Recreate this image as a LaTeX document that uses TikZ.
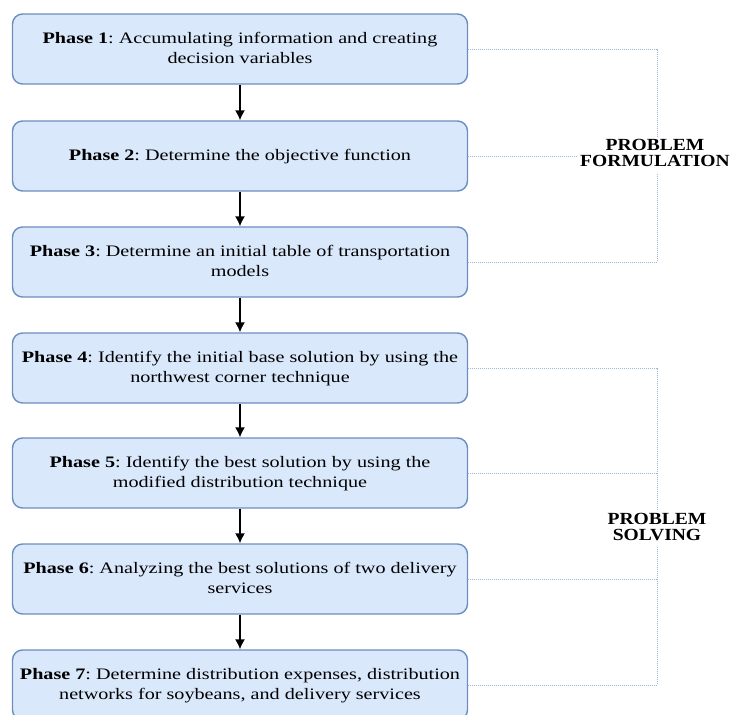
\documentclass[tikz,border=0pt]{standalone}
\usepackage{fontspec}
\setmainfont{Liberation Serif}
\usetikzlibrary{arrows.meta}
\newcommand{\stretchtext}[1]{\scalebox{1.26}[1]{\begin{tabular}{@{}c@{}}#1\end{tabular}}}
\begin{document}
\frenchspacing
\begin{tikzpicture}[x=1pt,y=-1pt,
  phase/.style={draw={rgb,255:red,108;green,142;blue,191}, line width=1.4pt, fill={rgb,255:red,218;green,232;blue,252}, rounded corners=10pt,
    minimum width=455pt, minimum height=70pt, align=center, font=\fontsize{16}{20}\selectfont, inner sep=0pt},
  arr/.style={-{Latex[length=10pt,width=10pt]}, line width=1.4pt, black},
  brk/.style={draw={rgb,255:red,160;green,182;blue,215}, densely dotted, line width=1pt},
  lbl/.style={fill=white, align=center, font=\bfseries\fontsize{17}{15.5}\selectfont, inner sep=2pt}
]
\useasboundingbox (0,0) rectangle (732,715);
\node[phase] (p1) at (240,49) {\stretchtext{\textbf{Phase 1}: Accumulating information and creating\\decision variables}};
\node[phase] (p2) at (240,156) {\stretchtext{\textbf{Phase 2}: Determine the objective function}};
\node[phase] (p3) at (240,262) {\stretchtext{\textbf{Phase 3}: Determine an initial table of transportation\\models}};
\node[phase] (p4) at (240,368) {\stretchtext{\textbf{Phase 4}: Identify the initial base solution by using the\\northwest corner technique}};
\node[phase] (p5) at (240,473) {\stretchtext{\textbf{Phase 5}: Identify the best solution by using the\\modified distribution technique}};
\node[phase] (p6) at (240,579) {\stretchtext{\textbf{Phase 6}: Analyzing the best solutions of two delivery\\services}};
\node[phase] (p7) at (240,685) {\stretchtext{\textbf{Phase 7}: Determine distribution expenses, distribution\\networks for soybeans, and delivery services}};
\foreach \a/\b in {p1/p2,p2/p3,p3/p4,p4/p5,p5/p6,p6/p7} \draw[arr] (\a.south) -- (\b.north);
\coordinate (f1) at (657,49);
\coordinate (f3) at (657,262);
\coordinate (s1) at (657,368);
\coordinate (s4) at (657,685);
\draw[brk] (p1.east) -- (f1) -- (f3) -- (p3.east);
\draw[brk] (p2.east) -- (657,156);
\draw[brk] (p4.east) -- (s1) -- (s4) -- (p7.east);
\draw[brk] (p5.east) -- (657,473);
\draw[brk] (p6.east) -- (657,579);
\node[lbl] (lf) at (655,155) {\scalebox{1.15}[1]{\begin{tabular}{@{}c@{}}PROBLEM\\FORMULATION\end{tabular}}};
\node[lbl] (ls) at (657,529) {\scalebox{1.15}[1]{\begin{tabular}{@{}c@{}}PROBLEM\\SOLVING\end{tabular}}};
\end{tikzpicture}
\end{document}
